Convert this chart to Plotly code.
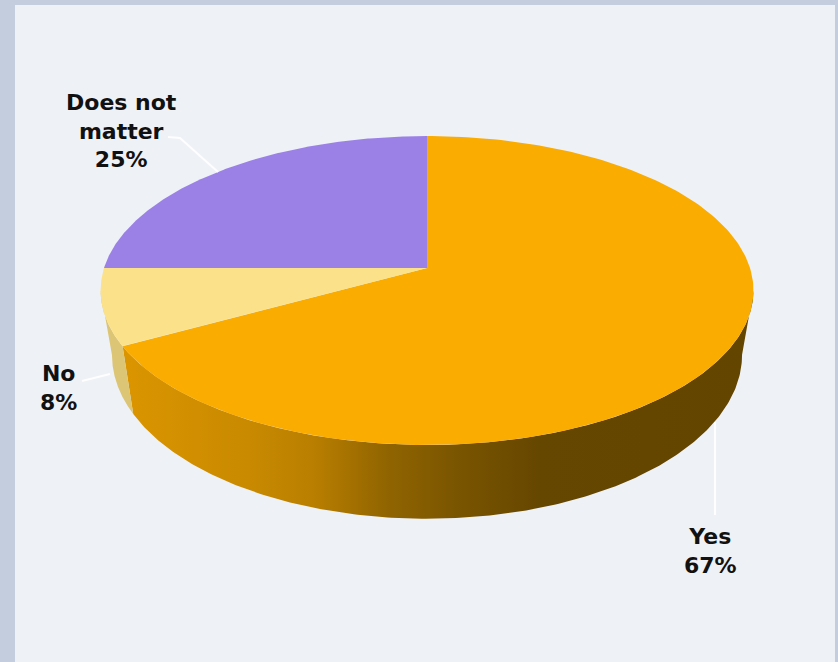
import numpy as np
import plotly.graph_objects as go

# ---- data ----
labels = ["Yes", "No", "Does not matter"]
values = [67, 8, 25]
top_colors = ["#FBAC00", "#FBE28A", "#9B80E6"]
side_colors = ["#B07800", "#DCC574", "#7B62C0"]
yes_side_scale = [[0.0, "#DB9500"], [0.2, "#C98A00"], [0.3, "#BA7F00"],
                  [0.42, "#906400"], [0.53, "#7A5500"], [0.66, "#664700"],
                  [1.0, "#634500"]]

# ---- geometry (pixel space) ----
W, H = 838, 662
CX, CY = 427, 268
RX, RY = 323, 151.2
PERSP = 0.1457
DEPTH = 63
BOTTOM_SHRINK = 0.965
N = 240


def project(phi_deg, z=0.0):
    phi = np.radians(phi_deg)
    u = np.sin(phi)
    v = -np.cos(phi)
    s = 1.0 / (1.0 - PERSP * v)
    k = 1.0 - (1.0 - BOTTOM_SHRINK) * z
    return CX + RX * u * s * k, CY + (RY * v + DEPTH * z) * s


sil_a = np.degrees(np.arccos(-PERSP))
sil_b = 360 - sil_a

total = sum(values)
bounds = []
start = 0.0
for v in values:
    end = start + 360.0 * v / total
    bounds.append((start, end))
    start = end

fig = go.Figure()

# side walls
for i, (a0, a1) in enumerate(bounds):
    s0, s1 = max(a0, sil_a), min(a1, sil_b)
    if s1 <= s0:
        continue
    ph = np.linspace(s0, s1, N)
    xt, yt = project(ph, 0)
    xb, yb = project(ph[::-1], 1)
    xs = np.concatenate([xt, xb, xt[:1]])
    ys = np.concatenate([yt, yb, yt[:1]])
    kw = dict(fillcolor=side_colors[i])
    if i == 0:
        kw = dict(fillgradient=dict(type="horizontal", colorscale=yes_side_scale))
    fig.add_trace(go.Scatter(x=xs, y=ys, mode="lines", fill="toself",
                             line=dict(width=0, color=side_colors[i]),
                             hoverinfo="skip", showlegend=False, **kw))

# top faces
for i, (a0, a1) in enumerate(bounds):
    ph = np.linspace(a0, a1, N)
    xa, ya = project(ph, 0)
    xs = np.concatenate([[CX], xa, [CX]])
    ys = np.concatenate([[CY], ya, [CY]])
    fig.add_trace(go.Scatter(x=xs, y=ys, mode="lines", fill="toself",
                             fillcolor=top_colors[i],
                             line=dict(width=0, color=top_colors[i]),
                             hoverinfo="skip", showlegend=False))

# labels and leader lines
label_pos = {"Yes": (710, 551), "No": (58, 388), "Does not matter": (121, 131)}
label_text = {"Yes": "Yes", "No": "No", "Does not matter": "Does not<br>matter"}
leaders = {"Yes": [(715, 422), (715, 515)],
           "No": [(82, 381), (110, 374)],
           "Does not matter": [(168, 137), (180, 138), (218, 172)]}

for lab, val in zip(labels, values):
    pts = leaders[lab]
    fig.add_trace(go.Scatter(x=[p[0] for p in pts], y=[p[1] for p in pts],
                             mode="lines", line=dict(color="rgba(255,255,255,0.9)", width=2),
                             hoverinfo="skip", showlegend=False))
    x, y = label_pos[lab]
    fig.add_annotation(x=x, y=y, xref="x", yref="y", showarrow=False,
                       text=f"<b>{label_text[lab]}<br>{val}%</b>",
                       font=dict(family="DejaVu Sans", size=22, color="#111111"),
                       align="center")

fig.add_shape(type="rect", xref="x", yref="y", x0=15, x1=835, y0=5, y1=H + 5,
              fillcolor="#EEF1F6", line=dict(width=0), layer="below")

fig.update_layout(
    width=W, height=H, autosize=False,
    margin=dict(l=0, r=0, t=0, b=0),
    paper_bgcolor="#C3CDDD", plot_bgcolor="#C3CDDD",
    xaxis=dict(range=[0, W], visible=False, fixedrange=True),
    yaxis=dict(range=[H, 0], visible=False, fixedrange=True),
    showlegend=False,
)

fig.write_html("out.html")
